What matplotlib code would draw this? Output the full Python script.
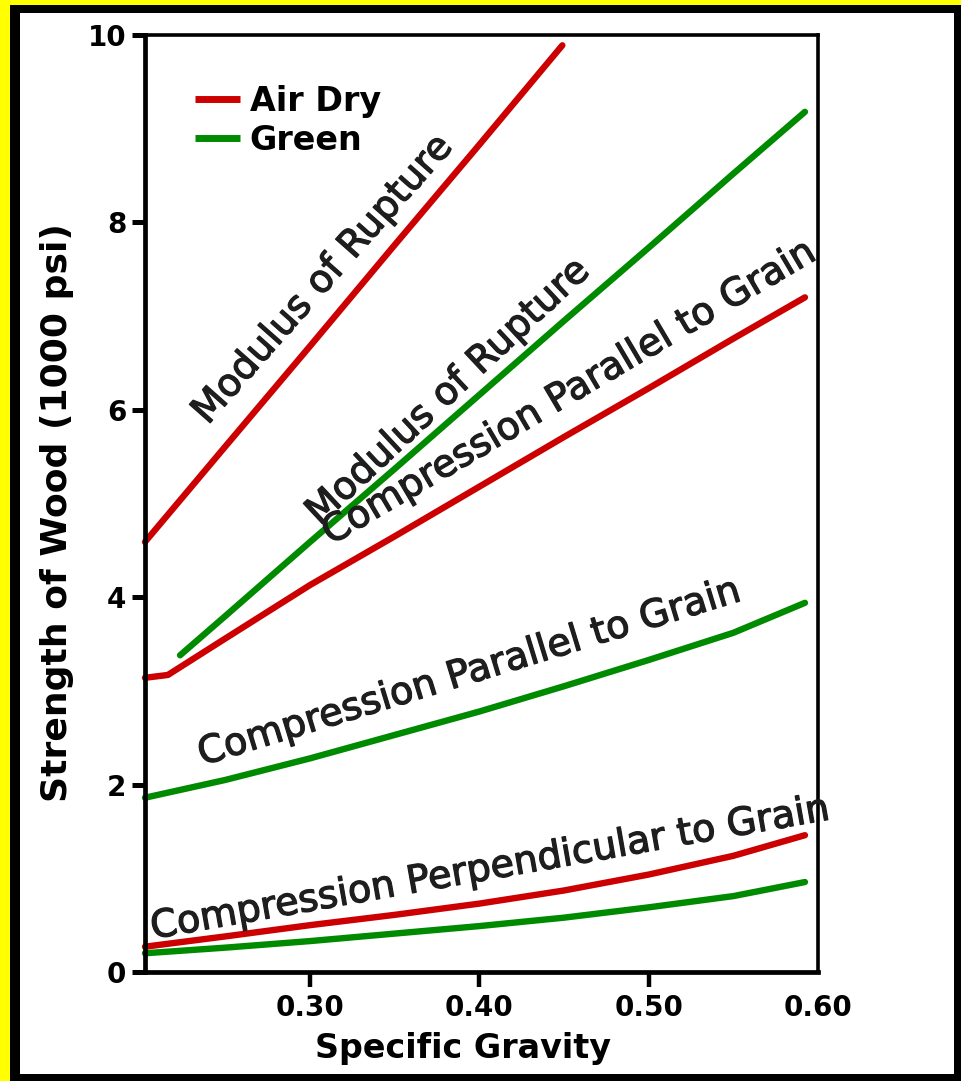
import matplotlib
matplotlib.use('Agg')
import matplotlib.pyplot as plt
from matplotlib.patches import Rectangle
import matplotlib.patheffects as pe

# ---------------- data ----------------
x_grid = [0.2025, 0.25, 0.30, 0.35, 0.40, 0.45, 0.50, 0.55, 0.5923]

mor_dry_x = [0.2025, 0.25, 0.30, 0.35, 0.40, 0.449]
mor_dry_y = [4.59, 5.61, 6.68, 7.76, 8.83, 9.89]

mor_green_x = [0.2232, 0.25, 0.30, 0.35, 0.40, 0.45, 0.50, 0.55, 0.5923]
mor_green_y = [3.38, 3.80, 4.59, 5.37, 6.16, 6.95, 7.73, 8.52, 9.18]

cpar_dry_x = [0.2025, 0.216, 0.25, 0.30, 0.35, 0.40, 0.45, 0.50, 0.55, 0.5923]
cpar_dry_y = [3.14, 3.17, 3.56, 4.13, 4.65, 5.18, 5.71, 6.23, 6.76, 7.20]

cpar_green_y = [1.86, 2.05, 2.28, 2.53, 2.78, 3.05, 3.33, 3.62, 3.94]
cperp_dry_y = [0.27, 0.38, 0.50, 0.61, 0.73, 0.87, 1.04, 1.24, 1.46]
cperp_green_y = [0.20, 0.26, 0.33, 0.41, 0.49, 0.58, 0.69, 0.81, 0.96]

x_ticks = [0.30, 0.40, 0.50, 0.60]
x_tick_labels = ['0.30', '0.40', '0.50', '0.60']
y_ticks = [0, 2, 4, 6, 8, 10]
y_tick_labels = ['0', '2', '4', '6', '8', '10']

series_names = ['Air Dry', 'Green']
annotations = [
    ('Modulus of Rupture', 0.3080, 7.39, 48.5),
    ('Modulus of Rupture', 0.3820, 6.19, 43.0),
    ('Compression Parallel to Grain', 0.4535, 6.18, 30.5),
    ('Compression Parallel to Grain', 0.3945, 3.19, 17.0),
    ('Compression Perpendicular to Grain', 0.4069, 1.10, 10.0),
]

RED = '#cc0000'
GREEN = '#008a00'
TXT = '#1e1e1e'

# ---------------- figure ----------------
W, H = 961, 1081
fig = plt.figure(figsize=(W / 100, H / 100), dpi=100)
fig.patch.set_facecolor('#ffff00')
fig.patches.append(Rectangle((10 / W, 0), 1 - 10 / W, 1 - 5 / H,
                             transform=fig.transFigure, facecolor='black',
                             edgecolor='none', zorder=-10))
fig.patches.append(Rectangle((20 / W, 7 / H), (954 - 20) / W, (1068 - 7) / H,
                             transform=fig.transFigure, facecolor='white',
                             edgecolor='none', zorder=-9))

ax = fig.add_axes([145 / W, (H - 972) / H, (818 - 145) / W, (972 - 35) / H])
ax.set_facecolor('white')
ax.set_xlim(0.2025, 0.60)
ax.set_ylim(0, 10)

lw = 4.6
kw = dict(solid_capstyle='round', solid_joinstyle='round', clip_on=False)
ax.plot(mor_dry_x, mor_dry_y, color=RED, lw=lw, label=series_names[0], **kw)
ax.plot(mor_green_x, mor_green_y, color=GREEN, lw=lw, label=series_names[1], **kw)
ax.plot(cpar_dry_x, cpar_dry_y, color=RED, lw=lw, **kw)
ax.plot(x_grid, cpar_green_y, color=GREEN, lw=lw, **kw)
ax.plot(x_grid, cperp_dry_y, color=RED, lw=lw, **kw)
ax.plot(x_grid, cperp_green_y, color=GREEN, lw=lw, **kw)

for txt, tx, ty, rot in annotations:
    ax.text(tx, ty, txt, rotation=rot, rotation_mode='anchor', ha='center',
            va='center', fontsize=27.5, color=TXT, zorder=5,
            path_effects=[pe.withStroke(linewidth=0.9, foreground=TXT)])

# spines / ticks
for s in ['left', 'bottom']:
    ax.spines[s].set_linewidth(3.4)
for s in ['top', 'right']:
    ax.spines[s].set_linewidth(2.6)
ax.set_xticks(x_ticks)
ax.set_xticklabels(x_tick_labels, fontsize=20, fontweight='bold')
ax.set_yticks(y_ticks)
ax.set_yticklabels(y_tick_labels, fontsize=20, fontweight='bold')
ax.tick_params(axis='x', direction='out', length=11, width=3.2, pad=5)
ax.tick_params(axis='y', direction='out', length=9.5, width=3.6, pad=4)
ax.xaxis.get_major_ticks()[-1].tick1line.set_visible(False)

ax.set_xlabel('Specific Gravity', fontsize=24, fontweight='bold')
ax.xaxis.set_label_coords(0.4725, -0.064)
ax.set_ylabel('Strength of Wood (1000 psi)', fontsize=26, fontweight='bold')
ax.yaxis.set_label_coords(-0.106, 0.490)

leg = ax.legend(loc='upper left', bbox_to_anchor=(0.074, 0.947), frameon=False,
                prop={'size': 24, 'weight': 'bold'}, handlelength=1.35,
                handletextpad=0.3, labelspacing=0.18, borderpad=0,
                borderaxespad=0)
for h in leg.get_lines():
    h.set_linewidth(5)
    h.set_solid_capstyle('butt')

fig.savefig('out.png', dpi=100, facecolor=fig.get_facecolor())
